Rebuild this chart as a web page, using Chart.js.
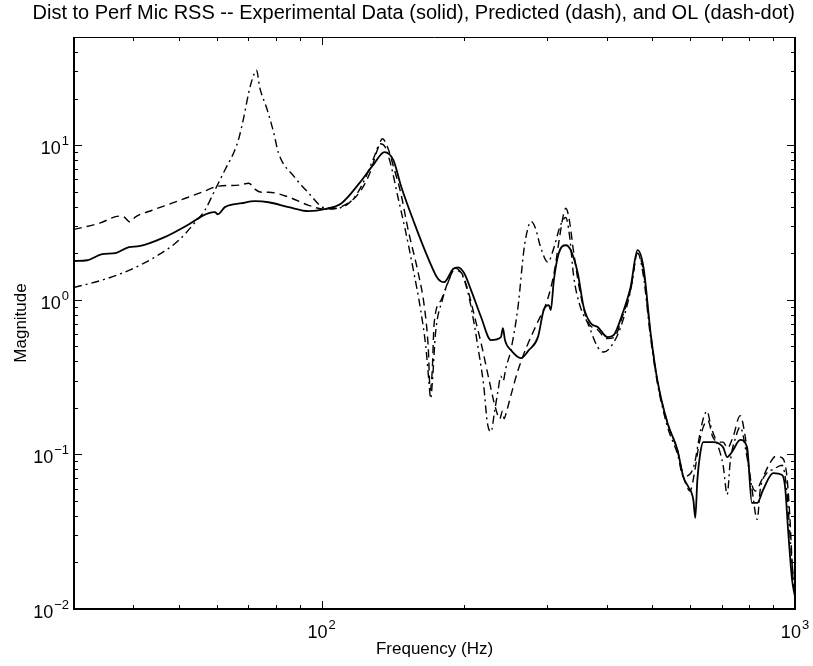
<!DOCTYPE html>
<html>
<head>
<meta charset="utf-8">
<title>Dist to Perf Mic RSS</title>
<script src="https://cdn.jsdelivr.net/npm/chart.js@4"></script>
<style>
  html, body { margin: 0; padding: 0; background: #fff; }
  canvas { display: block; }
</style>
</head>
<body>
<canvas id="chart" width="813" height="666"></canvas>
<script>
// experimental data (solid)
const freqExp = [30, 32, 34.4, 36.7, 39.2, 41.2, 46.1, 52.5, 55.9, 57.8, 59.5, 60.4, 62.5, 67.9, 72.3, 77.3, 85.2, 93.9, 101.5, 110.2,
  120.2, 129.3, 135.7, 141.8, 147.4, 157, 168, 176.3, 181.5, 189.6, 194.2, 200, 207, 217.2, 227.9, 239.2, 241.6, 244, 251.2, 263.7,
  274, 286.4, 294.6, 302, 304.9, 309.5, 317, 328.1, 335.9, 347.6, 357.8, 370, 383, 401.9, 413.9, 432.5, 449.6, 464.9, 478.6, 495.5,
  512, 538, 564.5, 581, 595.5, 610, 615.7, 621.9, 630.9, 640, 671.7, 705, 719, 736.5, 766, 792, 811, 832, 856, 899, 939, 953, 967, 986, 1000];
const magExp = [1.78, 1.8, 1.97, 2.0, 2.19, 2.22, 2.5, 3.08, 3.47, 3.63, 3.68, 3.57, 3.97, 4.21, 4.34, 4.27, 3.97, 3.74, 3.85, 4.21,
  5.67, 7.62, 9.0, 7.99, 5.35, 3.13, 1.85, 1.36, 1.3, 1.58, 1.62, 1.49, 1.15, 0.773, 0.548, 0.573, 0.655, 0.548, 0.472, 0.419,
  0.472, 0.573, 0.857, 0.923, 0.857, 1.34, 2.0, 2.25, 2.09, 1.49, 0.896, 0.706, 0.666, 0.573, 0.59, 0.819, 1.21, 2.09, 1.62, 0.608,
  0.302, 0.159, 0.107, 0.0713, 0.0615, 0.0507, 0.0388, 0.0682, 0.102, 0.12, 0.12, 0.111, 0.0961, 0.104, 0.124, 0.111, 0.0485, 0.0485, 0.0588, 0.0757, 0.0735, 0.0615, 0.0324, 0.0154, 0.012];

// predicted (dash)
const freqPred = [30, 34, 37.4, 38.3, 39.4, 40.4, 43.9, 48.3, 55.9, 60.7, 66.9, 70.2, 72.3, 74.7, 77.3, 85.2, 93.9, 101.5, 110.2, 120,
  127, 131, 134.5, 138, 142, 147, 152.4, 160, 164.9, 168, 169.6, 171.2, 172.9, 179, 185, 190.6, 197.1, 203.8, 210, 218,
  226, 233, 238, 241, 243, 246, 252, 260, 270, 285, 300, 310, 318, 324, 328, 333, 341, 352, 365, 383,
  400, 415, 432, 450, 465, 478, 495, 512, 538, 565, 581, 600, 615, 625, 640, 655, 670, 690, 705, 720,
  740, 766, 785, 805, 825, 850, 880, 910, 940, 960, 975, 990, 1000];
const magPred = [2.85, 3.13, 3.47, 3.42, 3.18, 3.42, 3.79, 4.21, 4.96, 5.43, 5.51, 5.67, 5.19, 4.96, 4.96, 4.61, 4.08, 3.85, 4.0, 4.9,
  6.8, 9.2, 11.0, 9.6, 7.2, 4.9, 2.82, 1.49, 0.896, 0.494, 0.26, 0.336, 0.7, 1.0, 1.3, 1.55, 1.5, 1.15, 0.8, 0.5,
  0.3, 0.2, 0.17, 0.19, 0.17, 0.19, 0.25, 0.35, 0.48, 0.7, 1.0, 1.5, 2.5, 3.5, 3.9, 3.4, 2.0, 1.1, 0.72, 0.64,
  0.56, 0.57, 0.78, 1.18, 2.0, 1.55, 0.62, 0.3, 0.16, 0.105, 0.072, 0.058, 0.08, 0.11, 0.15, 0.165, 0.13, 0.12, 0.12, 0.11,
  0.13, 0.178, 0.13, 0.07, 0.058, 0.068, 0.085, 0.097, 0.095, 0.075, 0.04, 0.016, 0.012];

// open loop (dash-dot)
const freqOL = [30, 34.4, 39.2, 44.5, 50, 54.1, 56.7, 59.5, 62.5, 65.6, 66.9, 68.5, 70.2, 71.3, 72.9, 74, 76.6, 79.2, 81.1, 87.7,
  93.9, 100, 103.4, 110, 118, 124, 129, 133, 136, 140, 145, 150, 156, 162, 166, 168.5, 170, 171.5, 174, 180,
  186, 191, 197, 204, 210, 215, 220, 224, 228, 232, 236, 239, 242, 245, 251, 260, 267.5, 272, 277, 283,
  290, 300.5, 310, 318, 324, 328, 334, 341, 352, 365, 383, 394.5, 408, 428.5, 449.6, 465, 478, 495, 512, 538,
  565, 581, 601, 615, 625, 640, 652, 665, 690, 705, 719, 730, 750, 766, 790, 811, 832, 845, 870, 900, 939, 960, 980, 1000];
const magOL = [1.2, 1.34, 1.55, 1.89, 2.43, 3.18, 3.79, 5.1, 6.9, 9.3, 11.1, 15.1, 22, 26.3, 30.5, 23.7, 17.3, 12.1, 8.9, 6.2,
  4.9, 4.0, 3.9, 3.95, 4.7, 6.2, 8.3, 10.2, 9.8, 7.5, 4.6, 2.9, 1.6, 0.85, 0.5, 0.3, 0.23, 0.3, 0.6, 1.0,
  1.35, 1.6, 1.5, 1.1, 0.7, 0.45, 0.28, 0.16, 0.14, 0.19, 0.26, 0.32, 0.3, 0.36, 0.47, 0.9, 2.09, 2.8, 3.2, 2.9,
  2.2, 1.75, 2.2, 2.9, 3.3, 3.4, 2.6, 1.4, 0.9, 0.706, 0.494, 0.459, 0.494, 0.666, 1.15, 2.0, 1.45, 0.58, 0.29, 0.15,
  0.1, 0.072, 0.075, 0.09, 0.12, 0.17, 0.19, 0.15, 0.11, 0.085, 0.055, 0.09, 0.13, 0.15, 0.1, 0.06, 0.038, 0.06, 0.075, 0.08, 0.085, 0.06, 0.025, 0.012];

// axis ranges and labelled decades
const xRange = [30, 1000];
const yRange = [0.01, 50];
const xDecades = [2, 3];
const yDecades = [-2, -1, 0, 1];

const FONT = 'Liberation Sans, Arial, Helvetica, sans-serif';
Chart.defaults.font.family = FONT;
Chart.defaults.color = '#000';

const toPoints = (xs, ys) => xs.map((x, i) => ({ x: x, y: ys[i] }));

// all k*10^n values inside a range
function logTicks(min, max) {
  const out = [];
  for (let e = Math.floor(Math.log10(min)); e <= Math.ceil(Math.log10(max)); e++) {
    for (let k = 1; k < 10; k++) {
      const v = k * Math.pow(10, e);
      if (v >= min * 0.999 && v <= max * 1.001) out.push(v);
    }
  }
  return out;
}
const isDecade = v => Math.abs(Math.log10(v) - Math.round(Math.log10(v))) < 1e-6;
const supMinus = s => s.replace('-', '\u2212');

// matlab-like box, inward ticks and 10^n labels
const boxAxes = {
  id: 'boxAxes',
  afterDraw(chart) {
    const { ctx, chartArea: a, scales: { x, y } } = chart;
    ctx.save();
    ctx.strokeStyle = '#000';
    ctx.lineWidth = 1;
    ctx.beginPath();
    logTicks(xRange[0], xRange[1]).forEach(v => {
      const px = Math.round(x.getPixelForValue(v)) + 0.5;
      const len = isDecade(v) ? 8 : 4;
      ctx.moveTo(px, a.bottom); ctx.lineTo(px, a.bottom - len);
      ctx.moveTo(px, a.top); ctx.lineTo(px, a.top + len);
    });
    logTicks(yRange[0], yRange[1]).forEach(v => {
      const py = Math.round(y.getPixelForValue(v)) + 0.5;
      const len = isDecade(v) ? 8 : 4;
      ctx.moveTo(a.left, py); ctx.lineTo(a.left + len, py);
      ctx.moveTo(a.right, py); ctx.lineTo(a.right - len, py);
    });
    ctx.stroke();

    // frame
    ctx.lineWidth = 1;
    ctx.beginPath();
    ctx.moveTo(a.left, a.top + 0.5); ctx.lineTo(a.right, a.top + 0.5);
    ctx.stroke();
    ctx.lineWidth = 2;
    ctx.beginPath();
    ctx.moveTo(a.left, a.top); ctx.lineTo(a.left, a.bottom);
    ctx.lineTo(a.right, a.bottom); ctx.lineTo(a.right, a.top);
    ctx.stroke();

    // tick labels
    ctx.fillStyle = '#000';
    ctx.textBaseline = 'alphabetic';
    ctx.textAlign = 'left';
    const baseFont = '18px ' + FONT, expFont = '13px ' + FONT;
    const measure = (b, e) => {
      ctx.font = baseFont; const wb = ctx.measureText(b).width;
      ctx.font = expFont; const we = ctx.measureText(e).width;
      return [wb, we];
    };
    const draw = (b, e, left, base) => {
      ctx.font = baseFont; ctx.fillText(b, left, base);
      const wb = ctx.measureText(b).width;
      ctx.font = expFont; ctx.fillText(e, left + wb + 1, base - 9);
    };
    xDecades.forEach(d => {
      const px = x.getPixelForValue(Math.pow(10, d));
      const e = supMinus(String(d));
      const [wb, we] = measure('10', e);
      draw('10', e, px - (wb + we + 1) / 2, a.bottom + 29);
    });
    yDecades.forEach(d => {
      const py = y.getPixelForValue(Math.pow(10, d));
      const e = supMinus(String(d));
      const [wb, we] = measure('10', e);
      draw('10', e, a.left - 5 - (wb + we + 1), py + 9);
    });
    ctx.restore();
  }
};

const lineStyle = dash => ({
  borderColor: '#000',
  backgroundColor: '#000',
  borderWidth: dash.length ? 1.4 : 1.8,
  borderDash: dash,
  pointRadius: 0,
  cubicInterpolationMode: 'monotone',
  fill: false
});

new Chart(document.getElementById('chart'), {
  type: 'line',
  data: {
    datasets: [
      { label: 'Experimental Data', data: toPoints(freqExp, magExp), ...lineStyle([]) },
      { label: 'Predicted', data: toPoints(freqPred, magPred), ...lineStyle([8, 5]) },
      { label: 'OL', data: toPoints(freqOL, magOL), ...lineStyle([8, 4, 2, 4]) }
    ]
  },
  options: {
    responsive: false,
    animation: false,
    layout: { padding: { left: 0, right: 18, top: 0, bottom: 0 } },
    plugins: {
      legend: { display: false },
      tooltip: { enabled: false },
      title: {
        display: true,
        fullSize: true,
        align: 'end',
        text: 'Dist to Perf Mic RSS -- Experimental Data (solid), Predicted (dash), and OL (dash-dot)',
        font: { size: 20, weight: 'normal' },
        color: '#000',
        padding: { top: 1, bottom: 12 }
      }
    },
    scales: {
      x: {
        type: 'logarithmic',
        min: xRange[0],
        max: xRange[1],
        ticks: { display: false },
        grid: { display: false },
        border: { display: false },
        title: { display: true, text: 'Frequency (Hz)', font: { size: 17 }, color: '#000', padding: { top: 0, bottom: 6 } },
        afterFit(s) { s.height = 57; }
      },
      y: {
        type: 'logarithmic',
        min: yRange[0],
        max: yRange[1],
        ticks: { display: false },
        grid: { display: false },
        border: { display: false },
        title: { display: true, text: 'Magnitude', font: { size: 17 }, color: '#000', padding: { top: 11, bottom: 0 } },
        afterFit(s) { s.width = 74; }
      }
    }
  },
  plugins: [boxAxes]
});
</script>
</body>
</html>
